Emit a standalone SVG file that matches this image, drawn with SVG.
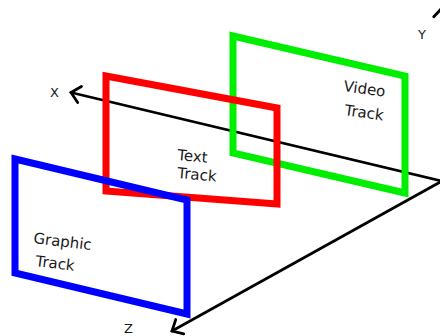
<svg xmlns="http://www.w3.org/2000/svg" width="440" height="336" viewBox="0 0 440 336">
<defs>
<style>
.axis{stroke:#000;stroke-width:2.7;fill:none;stroke-linecap:round}
.frame{fill:none;stroke-width:7;stroke-linejoin:miter}
.lbl{font-family:"DejaVu Sans",sans-serif;font-size:15px;fill:#1a1a1a}
.ax{font-family:"DejaVu Sans",sans-serif;font-size:13px;fill:#1a1a1a}
</style>
<marker id="arr" markerUnits="userSpaceOnUse" markerWidth="30" markerHeight="30" refX="0" refY="0" viewBox="-15 -15 30 30" orient="auto" overflow="visible">
<path d="M -8.8 -8.2 L 0 0 L -8.8 8.2" fill="none" stroke="#000" stroke-width="2.8" stroke-linecap="round" stroke-linejoin="miter"/>
</marker>
</defs>
<rect width="440" height="336" fill="#fff"/>
<g id="connectors">
<line class="axis" x1="442" y1="181" x2="71" y2="92.5" marker-end="url(#arr)"/>
<line class="axis" x1="442" y1="181" x2="172" y2="331" marker-end="url(#arr)"/>
<line class="axis" x1="442" y1="181" x2="442" y2="8" marker-end="url(#arr)"/>
</g>
<g id="axis-x"><text class="ax" x="50" y="97">X</text></g>
<g id="axis-y"><text class="ax" x="418" y="39">Y</text></g>
<g id="axis-z"><text class="ax" x="124" y="333">Z</text></g>
<g id="video-track">
<polygon class="frame" stroke="#00ee00" points="233,36 405,76 405,193 233,153"/>
<text class="lbl" transform="translate(343,91) rotate(8)">Video</text>
<text class="lbl" transform="translate(344,115) rotate(8)">Track</text>
</g>
<g id="text-track">
<polygon class="frame" stroke="#ff0000" points="106,76 277,108 277,204 106,191"/>
<text class="lbl" transform="translate(177,160) rotate(5)">Text</text>
<text class="lbl" transform="translate(177,178) rotate(5)">Track</text>
</g>
<g id="graphic-track">
<polygon class="frame" stroke="#0000ff" points="15,159 187,200 187,314 15,273"/>
<text class="lbl" transform="translate(33,243) rotate(7)">Graphic</text>
<text class="lbl" transform="translate(35,266) rotate(7)">Track</text>
</g>
</svg>
